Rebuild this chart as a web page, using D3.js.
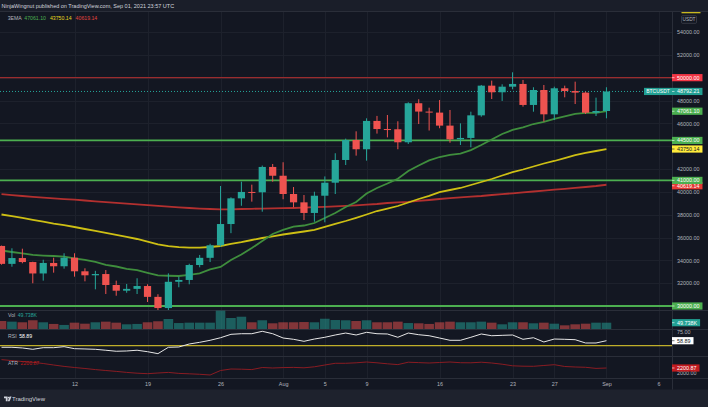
<!DOCTYPE html>
<html>
<head>
<meta charset="utf-8">
<script src="https://cdn.jsdelivr.net/npm/d3@7"></script>
<style>
  html, body { margin: 0; padding: 0; background: #131722; overflow: hidden; }
  svg { display: block; }
  text { font-family: "Liberation Sans", Arial, sans-serif; }
</style>
</head>
<body>
<div id="chart"></div>
<script>
// BTCUSDT daily, Jul 05 - Sep 01 2021
const dates = [
  "2021-07-05","2021-07-06","2021-07-07","2021-07-08","2021-07-09","2021-07-10","2021-07-11","2021-07-12","2021-07-13","2021-07-14",
  "2021-07-15","2021-07-16","2021-07-17","2021-07-18","2021-07-19","2021-07-20","2021-07-21","2021-07-22","2021-07-23","2021-07-24",
  "2021-07-25","2021-07-26","2021-07-27","2021-07-28","2021-07-29","2021-07-30","2021-07-31","2021-08-01","2021-08-02","2021-08-03",
  "2021-08-04","2021-08-05","2021-08-06","2021-08-07","2021-08-08","2021-08-09","2021-08-10","2021-08-11","2021-08-12","2021-08-13",
  "2021-08-14","2021-08-15","2021-08-16","2021-08-17","2021-08-18","2021-08-19","2021-08-20","2021-08-21","2021-08-22","2021-08-23",
  "2021-08-24","2021-08-25","2021-08-26","2021-08-27","2021-08-28","2021-08-29","2021-08-30","2021-08-31","2021-09-01"
];
const open = [
  35260, 33690, 34200, 33850, 32850, 33770, 33480, 34230, 33040, 32690,
  32800, 31840, 31340, 31500, 31750, 30800, 29820, 32120, 32280, 33590,
  34220, 35320, 37180, 39430, 39990, 39960, 42180, 41410, 39810, 39080,
  38150, 39660, 40800, 42790, 44540, 43730, 46210, 45500, 45480, 44340,
  47760, 47030, 46940, 45800, 44600, 44720, 46700, 49300, 48720, 49210,
  49450, 47610, 48920, 46790, 49070, 48830, 48690, 46930, 47080
];
const high = [
  35290, 35055, 35020, 33880, 34050, 34230, 34620, 34620, 33300, 33080,
  33150, 32220, 31930, 32430, 31900, 31030, 32860, 32570, 33700, 34470,
  35450, 40510, 39520, 40890, 40630, 42300, 42440, 42590, 40420, 39720,
  40010, 41350, 43380, 44660, 45300, 46440, 46650, 46730, 46180, 47840,
  48110, 47370, 48040, 47170, 46000, 47020, 49360, 49740, 49420, 50470,
  49800, 49160, 49360, 49210, 49300, 49650, 48780, 48250, 49160
];
const low = [
  33620, 33440, 33740, 31990, 32220, 32920, 33270, 32570, 32160, 31460,
  31050, 30900, 31160, 31050, 30350, 29300, 29480, 31640, 31900, 33390,
  33850, 35200, 36380, 38780, 39140, 38260, 40890, 39350, 38650, 37530,
  37380, 37330, 39810, 42350, 43170, 42730, 45100, 44770, 43730, 44190,
  45940, 45370, 45570, 44300, 44100, 43900, 46580, 48130, 47960, 48980,
  47460, 47020, 46150, 46290, 48280, 47690, 46820, 46640, 46440
];
const close = [
  33690, 34200, 33850, 32850, 33770, 33480, 34230, 33040, 32690, 32800,
  31840, 31340, 31500, 31750, 30800, 29820, 32120, 32280, 33590, 34220,
  35320, 37180, 39430, 39990, 39960, 42180, 41410, 39810, 39080, 38150,
  39660, 40800, 42790, 44540, 43730, 46210, 45500, 45480, 44340, 47760,
  47030, 46940, 45800, 44600, 44720, 46700, 49300, 48720, 49210, 49450,
  47610, 48920, 46790, 49070, 48830, 48690, 46930, 47080, 48792.21
];
const volume = [
  63000, 58000, 53000, 69000, 53000, 40000, 32000, 50000, 42000, 53000,
  58000, 50000, 37000, 40000, 53000, 61000, 79000, 47000, 50000, 50000,
  50000, 145000, 87000, 97000, 53000, 69000, 45000, 53000, 53000, 55000,
  53000, 81000, 71000, 69000, 63000, 69000, 53000, 53000, 58000, 47000,
  45000, 40000, 53000, 58000, 53000, 53000, 58000, 50000, 37000, 53000,
  53000, 45000, 50000, 42000, 29000, 37000, 42000, 50000, 49738
];
const emaFast = [
  34860, 34730, 34600, 34470, 34420, 34380, 34320, 34180, 34050, 33870,
  33610, 33460, 33260, 33150, 32910, 32690, 32650, 32630, 32730, 32860,
  33200, 33420, 34030, 34510, 35080, 35690, 36310, 36670, 36950, 37050,
  37270, 37710, 38150, 38670, 39110, 39850, 40340, 40730, 41150, 41830,
  42310, 42750, 43050, 43230, 43340, 43660, 44100, 44580, 45070, 45420,
  45640, 45940, 46120, 46380, 46600, 46820, 46910, 46920, 47061.10
];
const emaMid = [
  38015, 37866, 37717, 37550, 37393, 37218, 37077, 36920, 36745, 36587,
  36412, 36236, 36061, 35869, 35632, 35396, 35238, 35150, 35115, 35107,
  35168, 35255, 35448, 35588, 35781, 35956, 36105, 36263, 36394, 36526,
  36674, 36937, 37200, 37445, 37725, 38015, 38321, 38540, 38759, 39066,
  39373, 39653, 39968, 40161, 40336, 40599, 40861, 41124, 41431, 41720,
  41956, 42219, 42482, 42701, 42946, 43209, 43402, 43577, 43750.14
];
const emaSlow = [
  39793, 39714, 39635, 39565, 39495, 39425, 39364, 39311, 39241, 39171,
  39101, 39031, 38961, 38899, 38829, 38768, 38698, 38636, 38584, 38531,
  38496, 38470, 38470, 38496, 38514, 38531, 38549, 38566, 38584, 38619,
  38654, 38689, 38724, 38777, 38821, 38873, 38934, 39022, 39083, 39127,
  39215, 39285, 39372, 39442, 39512, 39582, 39635, 39723, 39793, 39872,
  39950, 40029, 40108, 40187, 40266, 40345, 40424, 40511, 40619.14
];
const rsi = [
  47.1, 47.1, 45.9, 43.5, 46.4, 46.4, 48.2, 44.6, 44.1, 43.5,
  41.8, 40.0, 40.5, 41.8, 39.2, 35.7, 47.1, 47.6, 53.0, 56.0,
  59.6, 64.2, 70.3, 71.4, 71.4, 75.7, 71.4, 63.7, 61.4, 57.8,
  61.9, 65.0, 69.1, 72.6, 69.1, 73.9, 71.4, 70.9, 65.0, 72.6,
  69.6, 67.8, 63.7, 59.6, 59.6, 65.0, 70.9, 67.8, 68.5, 69.1,
  61.4, 64.2, 56.6, 61.9, 61.4, 60.7, 54.8, 54.8, 58.89
];
const atr = [
  2559, 2517, 2478, 2444, 2393, 2329, 2269, 2222, 2180, 2133,
  2094, 2056, 2013, 1979, 1958, 1987, 2013, 1970, 1953, 1932,
  1902, 2094, 2158, 2150, 2133, 2222, 2201, 2218, 2227, 2209,
  2252, 2329, 2402, 2402, 2423, 2457, 2423, 2380, 2346, 2448,
  2431, 2414, 2436, 2457, 2427, 2423, 2448, 2414, 2363, 2295,
  2278, 2273, 2308, 2342, 2265, 2244, 2231, 2184, 2200.87
];

// horizontal levels drawn on the chart
const levelValues = [50000, 44500, 41000, 30000];
const rsiLevel = 50;

// axis ticks
const priceTicks = [54000, 52000, 48000, 46000, 42000, 40000, 38000, 36000, 34000, 32000];
const timeTicks = ["2021-07-12","2021-07-19","2021-07-26","2021-08-01","2021-08-05","2021-08-09","2021-08-16","2021-08-23","2021-08-27","2021-09-01","2021-09-06"];
const timeLabels = ["12","19","26","Aug","5","9","16","23","27","Sep","6"];
const rsiTicks = [75];
const atrTicks = [2000];

const W = 708, H = 407;
const axisX = 672;
const UP = "#26a69a", DOWN = "#ef5350";

const candles = dates.map((d, i) => ({
  date: new Date(d), o: open[i], h: high[i], l: low[i], c: close[i], v: volume[i]
}));

const svg = d3.select("#chart").append("svg")
  .attr("width", W).attr("height", H);

// scales
const x = d3.scaleUtc()
  .domain([new Date("2021-07-05"), new Date("2021-09-06")])
  .range([1.5, 658.6]);
const y = d3.scaleLinear().domain([30000, 54000]).range([306, 32]);
const yVol = d3.scaleLinear().domain([0, 150000]).range([329, 310]);
const yRsi = d3.scaleLinear().domain([58.89, 75]).range([340.7, 331.7]);
const yAtr = d3.scaleLinear().domain([2000, 2200.87]).range([372.7, 368]);

// backgrounds
svg.append("rect").attr("width", W).attr("height", H).attr("fill", "#131722");
svg.append("rect").attr("width", W).attr("height", 11.5).attr("fill", "#1a1e29");
svg.append("rect").attr("y", 389.5).attr("width", W).attr("height", H - 389.5).attr("fill", "#1e222d");

const defs = svg.append("defs");
defs.append("clipPath").attr("id", "mainClip")
  .append("rect").attr("x", 0).attr("y", 12).attr("width", axisX).attr("height", 298);
defs.append("clipPath").attr("id", "paneClip")
  .append("rect").attr("x", 0).attr("y", 310).attr("width", axisX).attr("height", 68);

// grid
const grid = svg.append("g").attr("stroke", "#1d212c").attr("stroke-width", 1);
grid.selectAll(".hg").data(d3.range(30000, 56000, 2000)).join("line")
  .attr("x1", 0).attr("x2", axisX)
  .attr("y1", d => Math.round(y(d)) + 0.5).attr("y2", d => Math.round(y(d)) + 0.5);
grid.selectAll(".vg").data(timeTicks).join("line")
  .attr("x1", d => Math.round(x(new Date(d))) + 0.5).attr("x2", d => Math.round(x(new Date(d))) + 0.5)
  .attr("y1", 12).attr("y2", 378);

// pane separators
svg.append("g").attr("stroke", "#2a2e39").attr("stroke-width", 1)
  .selectAll("line").data([11.5, 310.5, 329.5, 356.5, 378.5]).join("line")
  .attr("x1", 0).attr("x2", W).attr("y1", d => d).attr("y2", d => d);
svg.append("line").attr("x1", axisX + 0.5).attr("x2", axisX + 0.5)
  .attr("y1", 12).attr("y2", 389.5).attr("stroke", "#2a2e39");

// main pane
const main = svg.append("g").attr("clip-path", "url(#mainClip)");

const levelColor = v => v === 50000 ? "#9a2c2e" : "#4caf50";
main.selectAll(".level").data(levelValues).join("line")
  .attr("x1", 0).attr("x2", axisX)
  .attr("y1", d => y(d)).attr("y2", d => y(d))
  .attr("stroke", levelColor)
  .attr("stroke-width", d => d === 50000 ? 1.4 : 1.8);

const emaLine = arr => d3.line()
  .x((d, i) => x(candles[i].date))
  .y((d) => y(d))(arr);
[[emaSlow, "#b3302f"], [emaMid, "#cdbf14"], [emaFast, "#3f8e3d"]].forEach(([arr, col]) => {
  main.append("path").attr("d", emaLine(arr))
    .attr("fill", "none").attr("stroke", col).attr("stroke-width", 1.8);
});

// last price dotted line
main.append("line")
  .attr("x1", 0).attr("x2", 644)
  .attr("y1", y(close[close.length - 1])).attr("y2", y(close[close.length - 1]))
  .attr("stroke", UP).attr("stroke-width", 1).attr("stroke-dasharray", "1,2");

const cg = main.selectAll(".candle").data(candles).join("g")
  .attr("fill", d => d.c >= d.o ? UP : DOWN)
  .attr("stroke", d => d.c >= d.o ? UP : DOWN);
cg.append("line")
  .attr("x1", d => x(d.date)).attr("x2", d => x(d.date))
  .attr("y1", d => y(d.h)).attr("y2", d => y(d.l))
  .attr("stroke-width", 1);
cg.append("rect")
  .attr("x", d => x(d.date) - 3.6)
  .attr("width", 7.2)
  .attr("y", d => y(Math.max(d.o, d.c)))
  .attr("height", d => Math.max(1, Math.abs(y(d.o) - y(d.c))))
  .attr("stroke", "none");

// lower panes
const panes = svg.append("g").attr("clip-path", "url(#paneClip)");

panes.selectAll(".vol").data(candles).join("rect")
  .attr("x", d => x(d.date) - 4.8)
  .attr("width", 9.6)
  .attr("y", d => yVol(d.v))
  .attr("height", d => yVol(0) - yVol(d.v))
  .attr("fill", d => d.c >= d.o ? "rgba(38,166,154,0.5)" : "rgba(239,83,80,0.5)");

panes.append("line")
  .attr("x1", 0).attr("x2", axisX)
  .attr("y1", yRsi(rsiLevel)).attr("y2", yRsi(rsiLevel))
  .attr("stroke", "#bfae2a").attr("stroke-width", 1.3);

panes.append("path")
  .attr("d", d3.line().x((d, i) => x(candles[i].date)).y(d => yRsi(d))(rsi))
  .attr("fill", "none").attr("stroke", "#e6e6e6").attr("stroke-width", 1);

panes.append("path")
  .attr("d", d3.line().x((d, i) => x(candles[i].date)).y(d => yAtr(d))(atr))
  .attr("fill", "none").attr("stroke", "#8a1c22").attr("stroke-width", 1);

// axes
const FS = 5.4;
const styleAxis = g => {
  g.select(".domain").remove();
  g.selectAll("text").attr("fill", "#b2b5be").style("font-size", FS + "px")
    .style("font-family", '"Liberation Sans", Arial, sans-serif');
};
svg.append("g").attr("transform", `translate(${axisX},0)`)
  .call(d3.axisRight(y).tickValues(priceTicks).tickFormat(d3.format(".2f")).tickSize(0).tickPadding(5))
  .call(styleAxis);
svg.append("g").attr("transform", `translate(${axisX},0)`)
  .call(d3.axisRight(yRsi).tickValues(rsiTicks).tickFormat(d3.format(".2f")).tickSize(0).tickPadding(5))
  .call(styleAxis);
svg.append("g").attr("transform", `translate(${axisX},0)`)
  .call(d3.axisRight(yAtr).tickValues(atrTicks).tickFormat(d3.format(".2f")).tickSize(0).tickPadding(5))
  .call(styleAxis);
svg.append("g").attr("transform", "translate(0,378)")
  .call(d3.axisBottom(x).tickValues(timeTicks.map(d => new Date(d)))
    .tickFormat((d, i) => timeLabels[i]).tickSize(0).tickPadding(4))
  .call(styleAxis);

// value boxes on the price axis
function axisBox(yPos, label, bg, fg) {
  const g = svg.append("g");
  const t = g.append("text").attr("x", axisX + 5).attr("y", yPos).attr("dy", "0.35em")
    .attr("fill", fg).style("font-size", FS + "px").text(label);
  const w = t.node().getComputedTextLength() + 8;
  g.insert("rect", "text").attr("x", axisX).attr("y", yPos - 3.6)
    .attr("width", w).attr("height", 7.2).attr("fill", bg);
  g.insert("line", "text").attr("x1", axisX).attr("x2", axisX + 2.5)
    .attr("y1", yPos).attr("y2", yPos).attr("stroke", fg).attr("stroke-width", 0.6);
}
const fmt2 = d3.format(".2f");
const last = close.length - 1;
// slow EMA tag sits just under the 41000 level tag
axisBox(y(emaSlow[last]) + 1, fmt2(emaSlow[last]), "#e53935", "#ffffff");
axisBox(y(levelValues[2]), fmt2(levelValues[2]), "#4caf50", "#ffffff");
axisBox(y(levelValues[3]), fmt2(levelValues[3]), "#4caf50", "#ffffff");
axisBox(y(levelValues[1]), fmt2(levelValues[1]), "#4caf50", "#ffffff");
axisBox(y(emaMid[last]), fmt2(emaMid[last]), "#ffeb3b", "#131722");
axisBox(y(emaFast[last]), fmt2(emaFast[last]), "#4caf50", "#ffffff");
axisBox(y(levelValues[0]), fmt2(levelValues[0]), "#f23645", "#ffffff");
axisBox(y(close[last]), fmt2(close[last]), "#22a093", "#ffffff");
axisBox(yVol(volume[last]), d3.format(".3f")(volume[last] / 1000) + "K", "#22a093", "#ffffff");
axisBox(yRsi(rsi[last]), fmt2(rsi[last]), "#ffffff", "#131722");
axisBox(yAtr(atr[last]), fmt2(atr[last]), "#c21b1f", "#ffffff");

// symbol tag left of the axis
svg.append("rect").attr("x", 644).attr("y", y(close[last]) - 3.6)
  .attr("width", axisX - 644).attr("height", 7.2).attr("fill", "#22a093");
svg.append("text").attr("x", 658).attr("y", y(close[last])).attr("dy", "0.35em")
  .attr("text-anchor", "middle").attr("fill", "#ffffff").style("font-size", "5px").text("BTCUSDT");

// currency tag at the top of the axis
svg.append("rect").attr("x", 681.5).attr("y", 12).attr("width", 19).attr("height", 1.3).attr("fill", "#c8b820");
svg.append("rect").attr("x", 681.5).attr("y", 15.7).attr("width", 15).attr("height", 7.6)
  .attr("rx", 1).attr("fill", "none").attr("stroke", "#4a4e59").attr("stroke-width", 0.6);
svg.append("text").attr("x", 689).attr("y", 19.5).attr("dy", "0.35em").attr("text-anchor", "middle")
  .attr("fill", "#b2b5be").style("font-size", "4.8px").text("USDT");

// header and legends
svg.append("text").attr("x", 1.5).attr("y", 6).attr("dy", "0.35em")
  .attr("fill", "#d1d4dc").style("font-size", "5.5px")
  .text("NinjaWingnut published on TradingView.com, Sep 01, 2021 23:57 UTC");

// a legend row: grey label, then coloured values laid out one after another
const legend = (xPos, yPos, label, parts) => {
  const row = svg.append("text").attr("x", xPos).attr("y", yPos).attr("dy", "0.35em")
    .style("font-size", "5.2px");
  row.append("tspan").attr("fill", "#b2b5be").text(label);
  parts.forEach(([txt, col], i) => {
    row.append("tspan").attr("dx", i === 0 ? 2.5 : 4).attr("fill", col).text(txt);
  });
};
legend(7.7, 18.3, "3EMA", [
  [fmt2(emaFast[last]), "#4caf50"],
  [fmt2(emaMid[last]), "#e6d91e"],
  [fmt2(emaSlow[last]), "#e0443f"]
]);
legend(8, 315, "Vol", [[d3.format(".3f")(volume[last] / 1000) + "K", "#26a69a"]]);
legend(8, 335.7, "RSI", [[fmt2(rsi[last]), "#ffffff"]]);
legend(8, 363, "ATR", [[fmt2(atr[last]), "#b71c1c"]]);

// footer logo
const logo = svg.append("g").attr("fill", "#d1d4dc");
logo.append("path").attr("d", "M4,396.6 h3.6 v4.6 h-1.8 v-2.9 h-1.8 z");
logo.append("circle").attr("cx", 8.6).attr("cy", 397.5).attr("r", 0.85);
logo.append("path").attr("d", "M9.6,396.6 h1.9 l-1.9,4.6 h-1.8 z");
svg.append("text").attr("x", 12).attr("y", 399).attr("dy", "0.35em")
  .attr("fill", "#d1d4dc").style("font-size", "6px").text("TradingView");
</script>
</body>
</html>
